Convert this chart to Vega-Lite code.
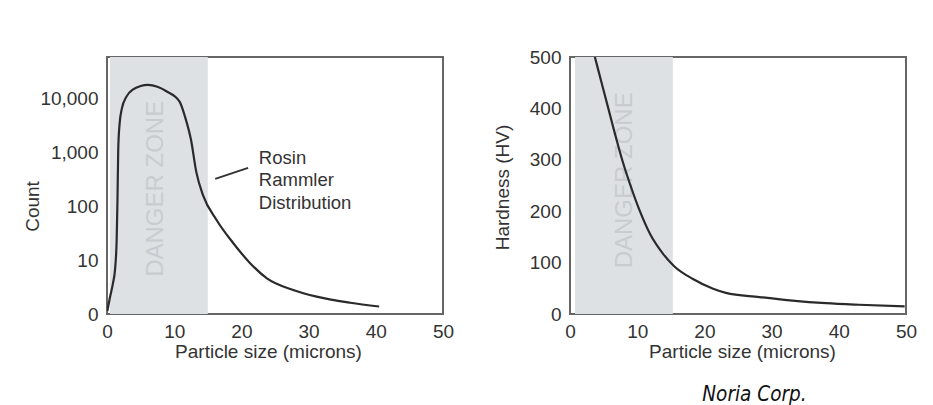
{
  "$schema": "https://vega.github.io/schema/vega-lite/v6.json",
  "background": "white",
  "padding": {"left": 22, "top": 47, "right": 5, "bottom": 5},
  "datasets": {
    "count": [
      {"size": 0.05, "count": 1.14},
      {"size": 0.45, "count": 2.07},
      {"size": 0.9, "count": 3.8},
      {"size": 1.19, "count": 6.6},
      {"size": 1.44, "count": 24},
      {"size": 1.56, "count": 132},
      {"size": 1.67, "count": 1120},
      {"size": 1.86, "count": 3280},
      {"size": 2.2, "count": 6500},
      {"size": 2.9, "count": 11000},
      {"size": 3.9, "count": 15000},
      {"size": 5.0, "count": 17300},
      {"size": 6.1, "count": 18200},
      {"size": 7.5, "count": 16800},
      {"size": 8.9, "count": 13700},
      {"size": 10.8, "count": 8900},
      {"size": 11.6, "count": 4700},
      {"size": 12.5, "count": 1730},
      {"size": 13.3, "count": 430},
      {"size": 14.3, "count": 160},
      {"size": 16.3, "count": 56},
      {"size": 18.8, "count": 20.7},
      {"size": 21.3, "count": 8.8},
      {"size": 23.8, "count": 4.6},
      {"size": 27.7, "count": 2.8},
      {"size": 31.2, "count": 2.1},
      {"size": 36.2, "count": 1.62},
      {"size": 40.5, "count": 1.38}
    ],
    "hardness": [
      {"size": 3.7, "hv": 500},
      {"size": 4.7, "hv": 450},
      {"size": 5.7, "hv": 400},
      {"size": 6.7, "hv": 350},
      {"size": 7.76, "hv": 300},
      {"size": 9.0, "hv": 250},
      {"size": 10.4, "hv": 200},
      {"size": 11.9, "hv": 156},
      {"size": 13.85, "hv": 117},
      {"size": 15.5, "hv": 93},
      {"size": 18.3, "hv": 68},
      {"size": 21.3, "hv": 49},
      {"size": 23.2, "hv": 41},
      {"size": 28.2, "hv": 33},
      {"size": 33.1, "hv": 26},
      {"size": 38.1, "hv": 21},
      {"size": 43, "hv": 18},
      {"size": 49.8, "hv": 15}
    ],
    "one": [{}]
  },
  "title": {
    "text": "Noria Corp.",
    "orient": "bottom",
    "anchor": "end",
    "font": "Liberation Sans Narrow, DejaVu Sans Condensed, Liberation Sans",
    "fontStyle": "italic",
    "fontWeight": "normal",
    "fontSize": 20.5,
    "color": "#111111",
    "offset": 22,
    "dx": -111
  },
  "spacing": 127,
  "bounds": "flush",
  "hconcat": [
    {
      "width": 336,
      "height": 257,
      "layer": [
        {
          "data": {"name": "one"},
          "mark": {"type": "rect", "color": "#dde1e4"},
          "encoding": {
            "x": {"datum": 0.45, "type": "quantitative"},
            "x2": {"datum": 15}
          }
        },
        {
          "data": {"name": "one"},
          "mark": {"type": "text", "text": "DANGER ZONE", "angle": 270, "fontSize": 24, "color": "#c8ccd0", "align": "center", "baseline": "middle"},
          "encoding": {
            "x": {"datum": 7.3, "type": "quantitative"},
            "y": {"datum": 212, "type": "quantitative"}
          }
        },
        {
          "data": {"name": "one"},
          "mark": {"type": "rule", "color": "#333333", "strokeWidth": 2},
          "encoding": {
            "x": {"datum": 16.1, "type": "quantitative"},
            "y": {"datum": 325, "type": "quantitative"},
            "x2": {"datum": 21},
            "y2": {"datum": 520}
          }
        },
        {
          "data": {"name": "one"},
          "mark": {"type": "text", "text": ["Rosin", "Rammler", "Distribution"], "align": "left", "baseline": "top", "lineHeight": 22.5, "fontSize": 18.5, "color": "#333333"},
          "encoding": {
            "x": {"datum": 22.6, "type": "quantitative"},
            "y": {"datum": 1190, "type": "quantitative"}
          }
        },
        {
          "data": {"name": "count"},
          "mark": {"type": "line", "color": "#2a2a2a", "strokeWidth": 2.2, "interpolate": "monotone", "clip": true},
          "encoding": {
            "x": {
              "field": "size", "type": "quantitative",
              "scale": {"domain": [0, 50], "nice": false, "zero": false},
              "axis": {"values": [0, 10, 20, 30, 40, 50], "title": "Particle size (microns)", "titleX": 161}
            },
            "y": {
              "field": "count", "type": "quantitative",
              "scale": {"type": "log", "domain": [1, 60000], "nice": false},
              "axis": {
                "values": [1, 10, 100, 1000, 10000],
                "labelExpr": "datum.value == 1 ? '0' : format(datum.value, ',')",
                "title": "Count", "titleX": -75, "titleY": 149
              }
            }
          }
        }
      ]
    },
    {
      "width": 336,
      "height": 257,
      "layer": [
        {
          "data": {"name": "one"},
          "mark": {"type": "rect", "color": "#dde1e4"},
          "encoding": {
            "x": {"datum": 0.75, "type": "quantitative"},
            "x2": {"datum": 15.3}
          }
        },
        {
          "data": {"name": "one"},
          "mark": {"type": "text", "text": "DANGER ZONE", "angle": 270, "fontSize": 24, "color": "#c8ccd0", "align": "center", "baseline": "middle"},
          "encoding": {
            "x": {"datum": 8.2, "type": "quantitative"},
            "y": {"datum": 260, "type": "quantitative"}
          }
        },
        {
          "data": {"name": "hardness"},
          "mark": {"type": "line", "color": "#2a2a2a", "strokeWidth": 2.2, "interpolate": "monotone", "clip": true},
          "encoding": {
            "x": {
              "field": "size", "type": "quantitative",
              "scale": {"domain": [0, 50], "nice": false, "zero": false},
              "axis": {"values": [0, 10, 20, 30, 40, 50], "title": "Particle size (microns)", "titleX": 172}
            },
            "y": {
              "field": "hv", "type": "quantitative",
              "scale": {"domain": [0, 500], "nice": false},
              "axis": {"values": [0, 100, 200, 300, 400, 500], "title": "Hardness (HV)", "titleX": -68, "titleY": 130}
            }
          }
        }
      ]
    }
  ],
  "config": {
    "view": {"stroke": "#666666", "strokeWidth": 2},
    "text": {"font": "Liberation Sans"},
    "axis": {
      "domain": false,
      "ticks": false,
      "grid": false,
      "labelFont": "Liberation Sans",
      "labelFontSize": 19,
      "labelColor": "#333333",
      "labelFlush": false,
      "labelOverlap": false,
      "titleFont": "Liberation Sans",
      "titleFontSize": 19,
      "titleFontWeight": "normal",
      "titleColor": "#333333"
    },
    "axisX": {"labelPadding": 8, "titleBaseline": "alphabetic", "titleY": 43.5, "titleAlign": "center"},
    "axisY": {"labelPadding": 9, "titleBaseline": "middle", "titleAlign": "center"}
  }
}
